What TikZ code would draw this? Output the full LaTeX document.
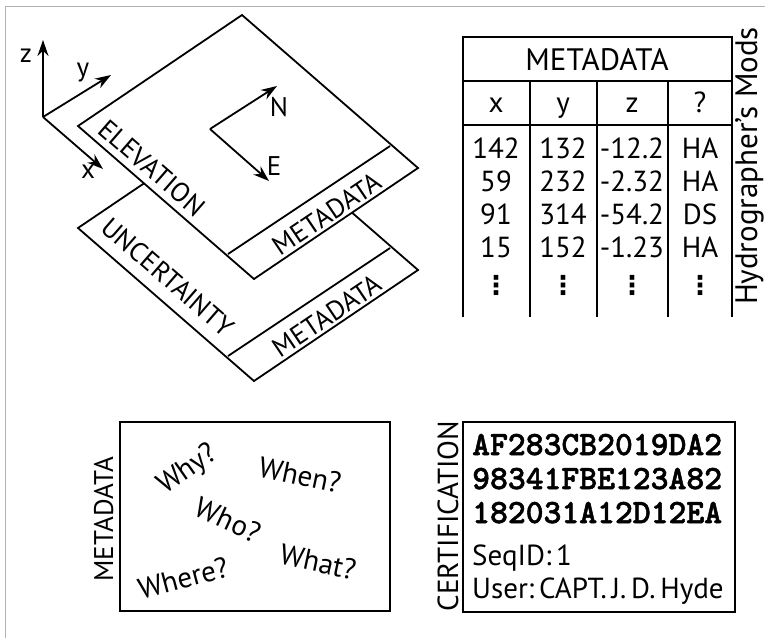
\documentclass[tikz,border=0pt]{standalone}
\usepackage{fontspec}
\setmainfont{PT Sans}
\newfontfamily\hexfont{lmmonolt10-bold}[Extension=.otf, FakeBold=1.5]
\newfontfamily\symfont{DejaVu Sans}
\usetikzlibrary{arrows.meta}
\newcommand\fs[1]{\fontsize{#1}{#1}\selectfont}
\tikzset{
  edge/.style={line width=1.8pt, line join=miter},
  axis/.style={line width=1.8pt, -{Stealth[length=16pt,width=11pt]}},
  lbl/.style={inner sep=0pt, font=\fs{27}},
  cell/.style={inner sep=0pt, anchor=base, font=\fs{29}},
  side/.style={inner sep=0pt, anchor=base, rotate=90, font=\fs{29}},
  ask/.style={inner sep=0pt, font=\fs{29}},
  hexline/.style={inner sep=0pt, anchor=base west, font=\hexfont\fs{34}},
  infoline/.style={inner sep=0pt, anchor=base west, font=\fs{29}},
}
\begin{document}
\begin{tikzpicture}[x=1pt, y=-1pt, line cap=butt]
  \useasboundingbox (0,0) rectangle (765,638);
  \draw[gray!60, line width=0.8pt] (765,6) -- (5,6) -- (5,638);

  % axes
  \coordinate (o) at (43,117);
  \coordinate (ztip) at (43,40);
  \coordinate (ytip) at (111,75);
  \coordinate (xtip) at (103,169);
  \draw[axis] (o) -- (ztip);
  \draw[axis] (o) -- (ytip);
  \draw[axis] (o) -- (xtip);
  \node[lbl] (zlab) at (26,56) {z};
  \node[lbl] (ylab) at (83,73) {y};
  \node[lbl] (xlab) at (88,172) {x};

  % uncertainty layer
  \coordinate (ut) at (242,117);
  \coordinate (ur) at (418,270);
  \coordinate (ub) at (254,381);
  \coordinate (ul) at (78,228);
  \draw[edge, fill=white] (ut) -- (ur) -- (ub) -- (ul) -- cycle;
  \draw[edge] (390,248) -- (228,356);
  \node[lbl, rotate=-41] (unc) at (168,277) {UNCERTAINTY};
  \node[lbl, rotate=34] (umeta) at (327,316) {METADATA};

  % elevation layer
  \coordinate (et) at (242,15);
  \coordinate (er) at (418,168);
  \coordinate (eb) at (254,279);
  \coordinate (el) at (78,126);
  \draw[edge, fill=white] (et) -- (er) -- (eb) -- (el) -- cycle;
  \draw[edge] (390,146) -- (228,254);
  \node[lbl, rotate=-41] (elev) at (152,168) {ELEVATION};
  \node[lbl, rotate=34] (emeta) at (327,214) {METADATA};

  % north / east
  \coordinate (c) at (210,129);
  \coordinate (ntip) at (277,86);
  \coordinate (etip) at (269,181);
  \draw[axis] (c) -- (ntip);
  \draw[axis] (c) -- (etip);
  \node[lbl] (nlab) at (279,107) {N};
  \node[lbl] (elab) at (274,166) {E};

  % metadata table
  \draw[edge] (463,317) -- (463,37) -- (732,37) -- (732,317);
  \draw[edge] (463,81) -- (732,81);
  \draw[edge] (463,125) -- (732,125);
  \foreach \cx in {530,597,668} \draw[edge] (\cx,81) -- (\cx,317);
  \node[cell, font=\fs{31}] (thead) at (597,70) {METADATA};
  \node[cell] (hx) at (496,112) {x};
  \node[cell] (hy) at (563,112) {y};
  \node[cell] (hz) at (632,112) {z};
  \node[cell] (hq) at (700,112) {?};
  \foreach \a/\b/\c/\d [count=\i] in {142/132/-12.2/HA, 59/232/-2.32/HA, 91/314/-54.2/DS, 15/152/-1.23/HA}{
    \node[cell] (ca\i) at (496,{158+33.3*(\i-1)}) {\a};
    \node[cell] (cb\i) at (563,{158+33.3*(\i-1)}) {\b};
    \node[cell] (cc\i) at (632,{158+33.3*(\i-1)}) {\c};
    \node[cell] (cd\i) at (700,{158+33.3*(\i-1)}) {\d};
  }
  \foreach \cx [count=\i] in {496,563,632,700} \node[inner sep=0pt, font=\symfont\bfseries\fs{26}] (dots\i) at (\cx,285) {⋮};
  \node[side, anchor=south, font=\fs{31}] (mods) at (764,166) {Hydrographer's Mods};

  % metadata box
  \node[draw, line width=1.8pt, minimum width=270pt, minimum height=189pt, inner sep=0pt] (mbox) at (255,516.5) {};
  \node[side, font=\fs{27}] (mside) at (113,519) {METADATA};
  \node[ask, rotate=35] (why) at (188,470) {Why?};
  \node[ask, rotate=-12] (when) at (300,475) {When?};
  \node[ask, rotate=-25] (who) at (228,520) {Who?};
  \node[ask, rotate=-12] (what) at (318,562) {What?};
  \node[ask, rotate=15] (where) at (183,578) {Where?};

  % certification box
  \node[draw, line width=1.8pt, minimum width=272pt, minimum height=190pt, inner sep=0pt] (cbox) at (599,517) {};
  \node[side] (cside) at (458,516) {CERTIFICATION};
  \node[hexline] (h1) at (472,455) {AF283CB2019DA2};
  \node[hexline] (h2) at (472,489) {98341FBE123A82};
  \node[hexline] (h3) at (472,523) {182031A12D12EA};
  \node[infoline] (seq) at (472,565) {SeqID:\,1};
  \node[infoline] (user) at (472,598) {User:\,CAPT.\,J.\,D.\,Hyde};
\end{tikzpicture}
\end{document}
